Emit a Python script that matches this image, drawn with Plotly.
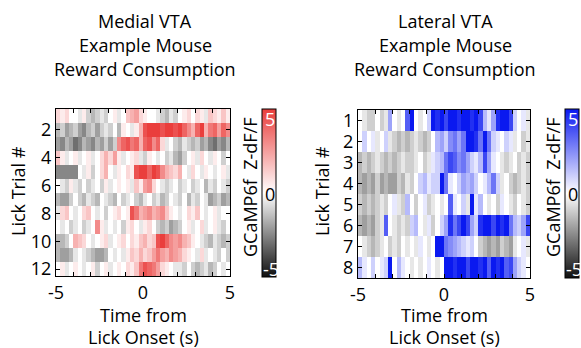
import plotly.graph_objects as go

# time bin centers (s), 40 bins of 0.25 s from -5 to 5
time_bins = [-4.875 + 0.25 * i for i in range(40)]

medial_trials = list(range(1, 13))
lateral_trials = list(range(1, 9))

# Medial VTA, Z-dF/F per lick trial (rows) and time bin (cols)
medial_z = [
    [1, 0.5, 1, 0, 0, -0.5, 0.5, -1, -1.5, -1, -0.5, -1, 0, 0.5, -0.5, 0, 1.5, 2, 2.5, 1, 0.5, 0, 0, -0.5, -1, -1.5, -0.5, -1, 0, 0.5, 1, 0, 1, 0.5, -0.5, 1.5, 1, 0.5, 1.5, 0.5],
    [-1.5, -1, -2, -1.5, -1, -2, -2.5, -1.5, -1, -2, -1, -0.5, -1, 0, -1.5, 0.5, 0, -0.5, 0.5, 2, 4.5, 5, 5, 5, 4.5, 5, 5, 4.5, 5, 4, 3, 2, 4, 5, 2, 3.5, 4, 2.5, 4, 3],
    [-2, -2.5, -1.5, -2, -3, -2.5, -1.5, -2, -2.5, -1.5, -2, -1, -2, -1, 3, 4, 4.5, 3.5, 4, 2, 4, 4.5, 3, 4, 1, -0.5, 0, -1, -1.5, -0.5, -1, -1.5, -1, -2, -1.5, -2.5, -3, -2, -2.5, -1.5],
    [1.5, 0.5, -0.5, 0, 0.5, -0.5, 0, 0.5, -0.5, 0, 1, 2, 1, 2.5, 0.5, -0.5, 0, 0.5, 1, -0.5, -1, 0.5, 0, -0.5, 0, -1, -0.5, -1.5, -2, -1, 0, 0.5, -0.5, 1, 0, -0.5, 0.5, 0, -1, 0],
    [-2.5, -2.5, -2.5, -2.5, -2.5, 0, -0.5, 0.5, -1, 0, 1, 2, 0, -0.5, 0.5, 0, 1, 0.5, 4.5, 5, 5, 4, 5, 4.5, 3, 2, 1.5, 1, 2, 0, -0.5, 1, 0, -0.5, 0.5, 0, -0.5, 0, 0.5, -0.5],
    [0, -0.5, -1, 0.5, -0.5, -1, 0, -1, -0.5, 0, -1, 0.5, -0.5, 0, 0.5, 0, 0.5, -0.5, 1.5, 0.5, 2.5, 3, 1, 0, -0.5, -1, -0.5, 0, -1, -0.5, 0, -1, -0.5, 0, -1.5, -0.5, -1, 0, -0.5, -1],
    [-1.5, -2, -2, -1, 0, -1, -1.5, -0.5, -1, -1.5, 0, -0.5, -1, -1.5, 0, -1, -0.5, 0, -1, -1.5, -0.5, 0, -1, -0.5, -1.5, -1, 0, -0.5, -1, 0, -1.5, -0.5, -1, 0, -0.5, -2, -1.5, -1, -2, -1.5],
    [-0.5, 1, 1.5, 0, -0.5, 0, 1, 1.5, 0, -0.5, 0, -1, 0, 0.5, 1, 0, 0.5, 4.5, 3.5, 2, 2.5, 3, 2, 2.5, 3, 1.5, 0.5, 0, -0.5, 0, 1, 0.5, 1.5, 0, -0.5, 0, 0.5, -0.5, 0, 0],
    [0, -0.5, 0, -1, -0.5, 0, -1, -0.5, 0, 3, 0.5, -0.5, 0, -0.5, 0, -1, 0.5, 1, 0, -0.5, 0.5, 1, 0, -1, -1.5, -1, -2, -1.5, -1, 0, 0.5, -0.5, 0, 1, -0.5, 0, 0.5, -0.5, -1, 0],
    [-1.5, -1.5, -1, 0, 2, 1.5, 1, 0, -0.5, 0, 0.5, 1, -0.5, 0, 0.5, 1, 0, 1, 0.5, 1.5, 2, 1, 1.5, 4.5, 5, 4, 3, 2.5, 3, 2, 1.5, 0.5, 0, -0.5, -1, -1.5, -0.5, -1, -1.5, -1],
    [-1.5, -2, -2, -1.5, -0.5, 0, -0.5, -1, -1.5, -2, -2, -1.5, 0, -0.5, 0, -0.5, 0.5, 1.5, 1, 2, 1, 1.5, 2.5, 3.5, 2.5, 2, 3, 2.5, 2, 1, 0.5, 0, -0.5, 1, -0.5, 0, -0.5, -1, 0, -1],
    [0, 0.5, -0.5, 0, 0.5, 0, -0.5, 0, 0.5, -1, 0, 0.5, -0.5, 0, 0.5, 0, 1, 0.5, 1.5, 3.5, 4.5, 4, 3.5, 2.5, 1, 0.5, 0, -0.5, -0.5, -1, 0, -1, -1.5, -1, -0.5, -1.5, -1, 0, -0.5, 0],
]

# Lateral VTA, Z-dF/F per lick trial (rows) and time bin (cols)
lateral_z = [
    [0, -0.5, -1, -1, 0, -1, -0.5, 2, 0, -0.5, 0, 3.5, 5, 0, -0.5, 0, 1, 5, 4.5, 5, 4, 5, 5, 4.5, 5, 5, 4.5, 5, 4, 1.5, 0.5, 2, 4.5, 5, 5, 4, 1, 0, 0.5, -0.5],
    [0, 1, 0, 0.5, -0.5, 0, 1, -0.5, -1, -1.5, -1, -1.5, -1, -0.5, -1, -1.5, -1, 0, 1.5, 2, 1, 2.5, 3, 2, 3, 5, 5, 4.5, 3, 5, 3, 1, 0.5, 0, 1, 0.5, -0.5, 0, -1, -0.5],
    [-1.5, -1, -1.5, -1, -0.5, -1, -1.5, -1, -1.5, -1, -0.5, -1, -1, -0.5, 0, -1, -0.5, 0.5, 1, 1.5, 3, 4, 3.5, 2.5, 3, 2, 1, 0.5, 1.5, 4, 2, 0.5, 0, -0.5, -1, -0.5, 0, -1, -0.5, -1],
    [-1.5, -2, -1.5, -2, -1, -2, -1.5, -2, -2, -1, -1.5, -0.5, -1, 0, 1, 1.5, 0.5, 1, 1, 5, 3, 0.5, 0, 1, 2, 1.5, 2, 1, 0, 0.5, 1.5, 3, 1, -0.5, 0, -1, -1.5, -1, -0.5, -1],
    [-1, -1.5, -1, -1.5, -1, -0.5, -1, 0, 0.5, -0.5, -1, 1.5, 0, -1, 0, 0.5, -1, -0.5, 0, -0.5, 0, 3.5, 0.5, 0, 1, -0.5, 5, 0.5, 1.5, 0, -0.5, 0, -1, 0.5, 0, -0.5, -1, 0, -0.5, -1],
    [-1.5, -2, -1.5, -2, -1, -0.5, 3.5, 0, -0.5, -1, -0.5, -1, 1, 1.5, 0, -0.5, 0.5, -1, 0, 1, 2, 4.5, 3, 4, 5, 4, 2, 1, 4.5, 5, 5, 4, 5, 4.5, 5, 3, 1.5, 1, 2, 4],
    [0, -0.5, -1, -1.5, -1, -0.5, 0, -1, -0.5, -1, 0, -0.5, 0, -0.5, 0.5, 0, -0.5, 0, 5, 5, 3, 2.5, 2, 1.5, 1, 0.5, 1, 0, -1, -1.5, -2, -1.5, -2, -1, -1.5, -2, -0.5, 0, 0.5, -0.5],
    [1.5, 0.5, 0, 1, 0, 0.5, 1, 5, 0, 1.5, 0.5, 0, -0.5, 0, -0.5, 0, 0.5, 0, -0.5, 0, 5, 5, 4.5, 5, 5, 4, 5, 5, 4.5, 5, 3.5, 5, 4.5, 5, 3.5, 4, 2, 1, 0.5, 0],
]

x_tick_vals = [-5, -4, -3, -2, -1, 0, 1, 2, 3, 4, 5]
x_tick_text = ["-5", "", "", "", "", "0", "", "", "", "", "5"]
medial_y_ticks = [2, 4, 6, 8, 10, 12]
lateral_y_ticks = [1, 2, 3, 4, 5, 6, 7, 8]
cbar_ticks = ["5", "0", "-5"]

W, H = 581, 348
FONT = "Open Sans"
FS = 18

red_scale = [[0, "rgb(15,15,15)"], [0.5, "rgb(255,255,255)"], [1, "rgb(234,62,60)"]]
blue_scale = [[0, "rgb(15,15,15)"], [0.5, "rgb(255,255,255)"], [1, "rgb(10,25,240)"]]

def px(x):
    return x / W

def py(y):
    return 1 - y / H

fig = go.Figure()
fig.add_trace(go.Heatmap(
    x=time_bins, y=medial_trials, z=medial_z, zmin=-5, zmax=5,
    colorscale=red_scale, xaxis="x", yaxis="y",
    colorbar=dict(x=px(262), xanchor="left", y=py(109), yanchor="top",
                  len=(277 - 109) / H, lenmode="fraction", thickness=14,
                  thicknessmode="pixels", outlinewidth=1, outlinecolor="black",
                  showticklabels=False, ticks="", xpad=0, ypad=0),
))
fig.add_trace(go.Heatmap(
    x=time_bins, y=lateral_trials, z=lateral_z, zmin=-5, zmax=5,
    colorscale=blue_scale, xaxis="x2", yaxis="y2",
    colorbar=dict(x=px(565), xanchor="left", y=py(109), yanchor="top",
                  len=(278 - 109) / H, lenmode="fraction", thickness=14,
                  thicknessmode="pixels", outlinewidth=1, outlinecolor="black",
                  showticklabels=False, ticks="", xpad=0, ypad=0),
))

axis_common = dict(showline=True, linecolor="black", linewidth=1, mirror="allticks",
                   ticks="inside", ticklen=4, tickcolor="black", showgrid=False,
                   zeroline=False, tickfont=dict(family=FONT, size=FS, color="black"))

fig.update_layout(
    width=W, height=H, paper_bgcolor="white", plot_bgcolor="white",
    margin=dict(l=0, r=0, t=0, b=0, autoexpand=False),
    font=dict(family=FONT, size=FS, color="black"),
    xaxis=dict(domain=[px(56), px(230)], range=[-5, 5], tickvals=x_tick_vals,
               ticktext=x_tick_text, anchor="y", **axis_common),
    yaxis=dict(domain=[py(276), py(109)], range=[12.5, 0.5], tickvals=medial_y_ticks,
               anchor="x", **axis_common),
    xaxis2=dict(domain=[px(358), px(530)], range=[-5, 5], tickvals=x_tick_vals,
                ticktext=x_tick_text, anchor="y2", **axis_common),
    yaxis2=dict(domain=[py(278), py(110)], range=[8.5, 0.5], tickvals=lateral_y_ticks,
                anchor="x2", **axis_common),
)

annots = []
def txt(x, y, s, angle=0, color="black", size=FS, xanchor="center"):
    annots.append(dict(x=px(x), y=py(y), xref="paper", yref="paper", text=s,
                       showarrow=False, textangle=angle, xanchor=xanchor, yanchor="middle",
                       font=dict(family=FONT, size=size, color=color)))

# titles
for cx, lines in [(145, ["Medial VTA", "Example Mouse", "Reward Consumption"]),
                  (445, ["Lateral VTA", "Example Mouse", "Reward Consumption"])]:
    for i, s in enumerate(lines):
        txt(cx, 21 + 24 * i, s)

# x axis titles
for cx in (143, 444):
    txt(cx, 315, "Time from")
    txt(cx, 337, "Lick Onset (s)")

# y axis titles
txt(18, 191, "Lick Trial #", angle=-90)
txt(322, 191, "Lick Trial #", angle=-90)

# colorbar titles
txt(250, 188, "GCaMP6f  Z-dF/F", angle=-90)
txt(553, 188, "GCaMP6f  Z-dF/F", angle=-90)

# colorbar tick labels
for bx in (262, 565):
    txt(bx + 1, 119, cbar_ticks[0], color="white", xanchor="left")
    txt(bx + 1, 194, cbar_ticks[1], color="black", xanchor="left")
    txt(bx - 1, 269, cbar_ticks[2], color="white", xanchor="left")

fig.update_layout(annotations=annots)
fig.write_html("out.html", config={"displayModeBar": False},
               post_script="document.body.style.margin='0';document.body.style.overflow='hidden';")
